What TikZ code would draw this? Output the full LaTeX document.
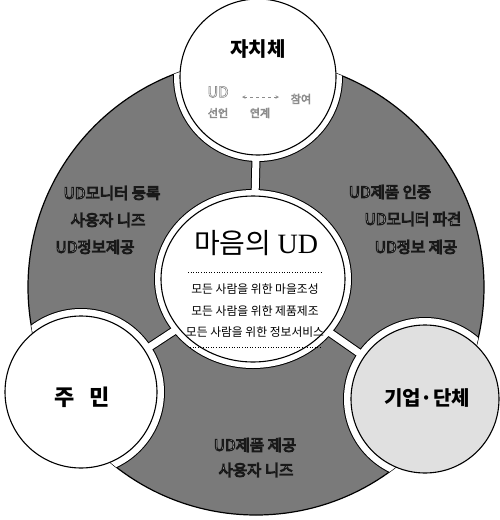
\documentclass[tikz,border=0pt]{standalone}
\usepackage{fontspec}
\usetikzlibrary{shapes.geometric}
\setmainfont{Noto Sans CJK KR}
\newfontfamily\serifen{Liberation Serif}
\newcommand{\emb}[1]{{\color{white}\special{pdf:literal direct 2 Tr 1.0 w 0.1 G}#1\special{pdf:literal direct 0 Tr}}}
\newcommand{\pale}[1]{{\color{white}\special{pdf:literal direct 2 Tr 0.6 w 0.55 G}#1\special{pdf:literal direct 0 Tr}}}
\begin{document}
\begin{tikzpicture}[x=1pt,y=-1pt,
  region/.style={fill=black!52},
  disc/.style={circle,draw=black,line width=1.1pt,fill=white,inner sep=0pt},
  secttext/.style={font=\fontsize{15.5}{17}\selectfont,inner sep=0pt},
  titletext/.style={font=\bfseries\fontsize{20}{22}\selectfont,inner sep=0pt},
  smalltext/.style={font=\fontsize{11}{12}\selectfont,inner sep=0pt},
  centertext/.style={font=\fontsize{11.8}{13}\selectfont,inner sep=0pt},
  gapblack/.style={line width=9pt,black},
  gapwhite/.style={line width=7pt,white}]
\useasboundingbox (0,0) rectangle (499,520);
\coordinate (O) at (256,287);
\coordinate (T) at (258,77);
\coordinate (C) at (253,279);
\coordinate (L) at (81,392);
\coordinate (R) at (425,399);
% big ring
\fill[region] (O) circle (228);
\draw[line width=1.2pt] (O) circle (228);
\begin{scope}
  \clip (O) circle (228);
  \draw[gapblack] (T) -- (C);
  \draw[gapblack] (C) -- (L);
  \draw[gapblack] (C) -- (R);
  \fill[black] (T) circle (85);
  \fill[black] (C) ellipse [x radius=99, y radius=90];
  \fill[black] (L) circle (84);
  \fill[black] (R) circle (82);
  \draw[gapwhite] (T) -- (C);
  \draw[gapwhite] (C) -- (L);
  \draw[gapwhite] (C) -- (R);
  \fill[white] (T) circle (84);
  \fill[white] (C) ellipse [x radius=98, y radius=89];
  \fill[white] (L) circle (83);
  \fill[white] (R) circle (81);
\end{scope}
% circles
\node[disc,minimum size=156pt] (top) at (T) {};
\node[ellipse,draw=black,line width=1.1pt,fill=white,inner sep=0pt,minimum width=184pt,minimum height=166pt] (mid) at (C) {};
\node[disc,minimum size=152pt] (left) at (L) {};
\node[disc,minimum size=148pt,fill=black!12] (right) at (R) {};
% titles
\node[titletext] (ttop) at (258,49) {자치체};
\node[titletext,font=\bfseries\fontsize{22}{24}\selectfont] (tleft) at (82,397) {주\hspace{0.7em}민};
\node[titletext] (tright) at (427,398) {기업·단체};
% top small text
\node[smalltext,font=\fontsize{15}{16}\selectfont] (ud) at (218,92) {\pale{UD}};
\node[smalltext] (sun) at (218,113) {\pale{선언}};
\node[smalltext] (yeon) at (260,113) {\pale{연계}};
\node[smalltext] (cham) at (301,99) {\pale{참여}};
\coordinate (aw) at (242,97);
\coordinate (ae) at (279,97);
\draw[<->,black!45,line width=0.6pt,dashed,>=stealth] (aw) -- (ae);
% center
\node[inner sep=0pt] (mtitle) at (256,243) {\fontsize{28}{30}\selectfont 마음의 {\serifen UD}};
\coordinate (d1w) at (188,272);
\coordinate (d1e) at (322,272);
\draw[dotted,line width=0.6pt] (d1w) -- (d1e);
\node[centertext] (c1) at (255,289) {모든 사람을 위한 마을조성};
\node[centertext] (c2) at (255,311) {모든 사람을 위한 제품제조};
\node[centertext] (c3) at (255,332) {모든 사람을 위한 정보서비스};
\coordinate (d2w) at (190,347);
\coordinate (d2e) at (322,347);
\draw[dotted,line width=0.6pt] (d2w) -- (d2e);
% section texts
\node[secttext] (l1) at (112,193) {\emb{UD모니터 등록}};
\node[secttext] (l2) at (108,220) {\emb{사용자 니즈}};
\node[secttext] (l3) at (95,247) {\emb{UD정보제공}};
\node[secttext] (r1) at (390,192) {\emb{UD제품 인증}};
\node[secttext] (r2) at (413,219) {\emb{UD모니터 파견}};
\node[secttext] (r3) at (416,247) {\emb{UD정보 제공}};
\node[secttext] (b1) at (255,445) {\emb{UD제품 제공}};
\node[secttext] (b2) at (256,470) {\emb{사용자 니즈}};
\end{tikzpicture}
\end{document}
